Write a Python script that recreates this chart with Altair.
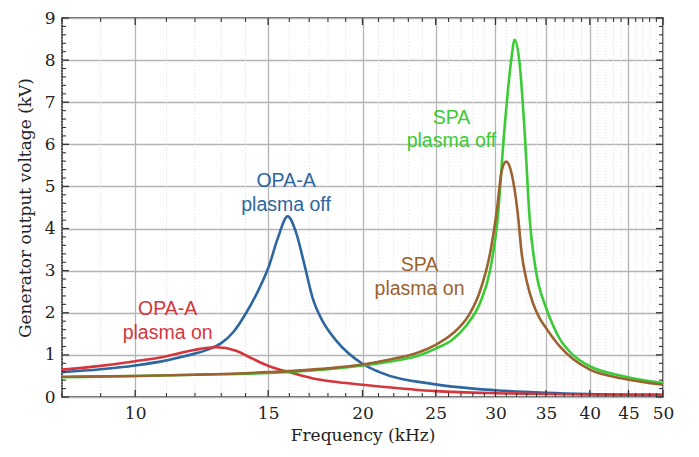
import altair as alt
import pandas as pd

# ---- data ----
opa_off_f = [8, 9, 10, 11, 11.44, 12, 12.5, 13.0, 13.5, 14.03, 14.6, 15.05, 15.44, 15.92, 16.33, 16.76, 17.18, 17.71, 18.46, 20.0, 21.06, 25, 30, 35, 40, 50]
opa_off_v = [0.59, 0.66, 0.75, 0.87, 0.94, 1.03, 1.13, 1.28, 1.55, 2.00, 2.58, 3.13, 3.76, 4.29, 3.91, 3.13, 2.35, 1.80, 1.34, 0.79, 0.59, 0.30, 0.16, 0.10, 0.07, 0.05]

opa_on_f = [8, 9, 10, 11, 11.44, 12, 12.8, 13.6, 14.3, 15.05, 16.0, 17.2, 18.6, 20, 21.06, 25, 30, 35, 40, 50]
opa_on_v = [0.65, 0.74, 0.85, 0.97, 1.04, 1.12, 1.18, 1.10, 0.91, 0.73, 0.59, 0.44, 0.35, 0.29, 0.25, 0.14, 0.09, 0.07, 0.06, 0.05]

spa_off_f = [8, 10, 12, 15, 18, 20, 21.9, 23.8, 25, 26.3, 27.45, 28.6, 29.5, 30.2, 30.8, 31.5, 31.8, 32.3, 32.8, 33.3, 33.9, 35, 35.7, 36.5, 38, 40, 44.2, 50]
spa_off_v = [0.47, 0.50, 0.53, 0.57, 0.66, 0.75, 0.85, 0.99, 1.15, 1.36, 1.70, 2.22, 3.00, 4.23, 6.26, 8.05, 8.48, 7.90, 6.26, 4.23, 3.05, 2.12, 1.73, 1.38, 1.00, 0.73, 0.50, 0.33]

spa_on_f = [8, 10, 12, 15, 18, 20, 21.9, 23.8, 25, 26.3, 27.7, 28.6, 29.5, 30.1, 30.6, 31.0, 31.5, 32.1, 32.5, 33.0, 33.6, 34.3, 35.0, 35.7, 36.5, 38, 40, 44.2, 50]
spa_on_v = [0.48, 0.50, 0.53, 0.59, 0.68, 0.77, 0.90, 1.07, 1.24, 1.50, 1.96, 2.50, 3.40, 4.38, 5.40, 5.59, 5.32, 4.38, 3.40, 2.75, 2.25, 1.88, 1.64, 1.42, 1.20, 0.90, 0.65, 0.44, 0.29]

series_names = ["OPA-A off", "OPA-A on", "SPA off", "SPA on"]
series_colors = ["#2e66a0", "#d4363c", "#3acb35", "#9a6331"]

# annotation labels: (series, freq, kV, text)
label_series = ["OPA-A off", "OPA-A off", "OPA-A on", "OPA-A on", "SPA off", "SPA off", "SPA on", "SPA on"]
label_f = [15.84, 15.84, 11.04, 11.04, 26.23, 26.23, 23.80, 23.80]
label_v = [5.13, 4.55, 2.08, 1.53, 6.63, 6.08, 3.13, 2.57]
label_text = ["OPA-A", "plasma off", "OPA-A", "plasma on", "SPA", "plasma off", "SPA", "plasma on"]

x_major = [10, 15, 20, 25, 30, 35, 40, 45, 50]
x_minor = [n for n in range(8, 51) if n % 5 != 0]
y_major = list(range(0, 10))
y_minor = [round(i * 0.2, 1) for i in range(0, 46) if i % 5 != 0]

W, H = 601, 379

rows = []
for name, fs, vs in [("OPA-A off", opa_off_f, opa_off_v), ("OPA-A on", opa_on_f, opa_on_v),
                     ("SPA off", spa_off_f, spa_off_v), ("SPA on", spa_on_f, spa_on_v)]:
    for f, v in zip(fs, vs):
        rows.append({"series": name, "f": f, "v": v})
df = pd.DataFrame(rows)

df_lab = pd.DataFrame({"series": label_series, "f": label_f, "v": label_v, "label": label_text})
df_xmaj = pd.DataFrame({"f": x_major})
df_xmin = pd.DataFrame({"f": x_minor})
df_ymaj = pd.DataFrame({"v": y_major})
df_ymin = pd.DataFrame({"v": y_minor})

SERIF = "DejaVu Serif"
xscale = alt.Scale(type="log", domain=[8, 50], nice=False)
yscale = alt.Scale(domain=[0, 9], nice=False)
xaxis = alt.Axis(values=x_major, format="d", title="Frequency (kHz)", grid=True,
                 gridColor="#b4b4b4", gridWidth=1.3, ticks=False, domain=False, labelFlush=False,
                 labelFont=SERIF, labelFontSize=17, labelColor="#222222", labelPadding=8,
                 titleFont=SERIF, titleFontSize=17, titleFontWeight="normal", titleColor="#222222",
                 titlePadding=6)
yaxis = alt.Axis(values=y_major, format="d", title="Generator output voltage (kV)", grid=True,
                 gridColor="#b4b4b4", gridWidth=1.3, ticks=False, domain=False, labelFlush=False,
                 labelFont=SERIF, labelFontSize=17, labelColor="#222222", labelPadding=7,
                 titleFont=SERIF, titleFontSize=17, titleFontWeight="normal", titleColor="#222222",
                 titlePadding=10)

X = alt.X("f:Q", scale=xscale, axis=xaxis)
Y = alt.Y("v:Q", scale=yscale, axis=yaxis)
color = alt.Color("series:N", scale=alt.Scale(domain=series_names, range=series_colors), legend=None)

minor_grid = alt.Chart(df_xmin).mark_rule(color="#d8d8d8", strokeWidth=0.8, strokeDash=[1, 2]).encode(x=X)

lines = alt.Chart(df).mark_line(strokeWidth=2.6, interpolate="monotone").encode(
    x=X, y=Y, color=color, order="f:Q")

TICKC = "#333333"
xt_bot_maj = alt.Chart(df_xmaj).mark_rule(color=TICKC, strokeWidth=1.3).encode(x=X, y=alt.value(H), y2=alt.value(H - 7))
xt_top_maj = alt.Chart(df_xmaj).mark_rule(color=TICKC, strokeWidth=1.3).encode(x=X, y=alt.value(0), y2=alt.value(7))
xt_bot_min = alt.Chart(df_xmin).mark_rule(color=TICKC, strokeWidth=1.1).encode(x=X, y=alt.value(H), y2=alt.value(H - 4))
xt_top_min = alt.Chart(df_xmin).mark_rule(color=TICKC, strokeWidth=1.1).encode(x=X, y=alt.value(0), y2=alt.value(4))
yt_l_maj = alt.Chart(df_ymaj).mark_rule(color=TICKC, strokeWidth=1.3).encode(y=Y, x=alt.value(0), x2=alt.value(7))
yt_r_maj = alt.Chart(df_ymaj).mark_rule(color=TICKC, strokeWidth=1.3).encode(y=Y, x=alt.value(W), x2=alt.value(W - 7))
yt_l_min = alt.Chart(df_ymin).mark_rule(color=TICKC, strokeWidth=1.1).encode(y=Y, x=alt.value(0), x2=alt.value(4))
yt_r_min = alt.Chart(df_ymin).mark_rule(color=TICKC, strokeWidth=1.1).encode(y=Y, x=alt.value(W), x2=alt.value(W - 4))

labels = alt.Chart(df_lab).mark_text(font="Liberation Sans", fontSize=19.5, baseline="middle", align="center").encode(
    x=X, y=Y, text="label:N", color=color)

chart = alt.layer(minor_grid, lines, xt_bot_maj, xt_top_maj, xt_bot_min, xt_top_min,
                  yt_l_maj, yt_r_maj, yt_l_min, yt_r_min, labels).properties(
    width=W, height=H,
    autosize=alt.AutoSizeParams(type="none"),
    padding={"left": 54, "top": 10, "right": 20, "bottom": 55},
    background="white",
).configure_view(stroke="#333333", strokeWidth=1.6)

chart.save("out.html", embed_options={"renderer": "svg", "actions": False})
